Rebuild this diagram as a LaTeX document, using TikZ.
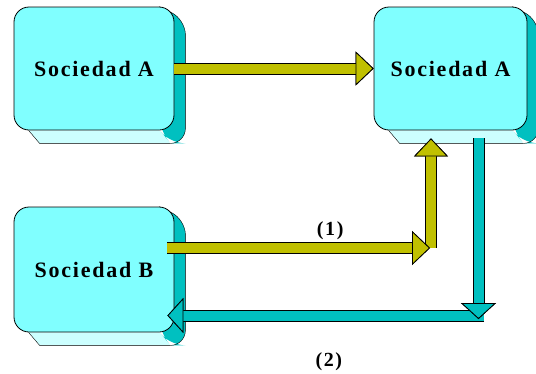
\documentclass[tikz,border=0pt]{standalone}
\usepackage{fontspec}
\newfontfamily\socfont{Liberation Serif}[LetterSpace=8]
\usetikzlibrary{arrows.meta,backgrounds}
\definecolor{socface}{RGB}{128,255,255}
\definecolor{socside}{RGB}{0,192,192}
\definecolor{socbottom}{RGB}{204,255,255}
\definecolor{flowyellow}{RGB}{192,192,0}
\definecolor{flowteal}{RGB}{0,192,192}
\begin{document}
\begin{tikzpicture}[x=1pt,y=-1pt]
        \tikzstyle{sociedad}=[rectangle,rounded corners=15pt,draw=black,line width=0.8pt,fill=socface,minimum width=160pt,minimum height=123pt,inner sep=0pt,font=\socfont\bfseries\fontsize{22}{26}\selectfont]
        \tikzstyle{flow}=[line width=10pt,preaction={draw=black,line width=12pt}]
        \tikzstyle{yellowflow}=[flow,draw=flowyellow,-{Triangle[width=34pt,length=18pt,line width=0.8pt,color=black,fill=flowyellow]}]
        \tikzstyle{tealflow}=[flow,draw=flowteal,-{Triangle[width=35pt,length=16pt,line width=0.8pt,color=black,fill=flowteal]}]
        \tikzstyle{flowlabel}=[font=\socfont\bfseries\fontsize{20}{24}\selectfont]
        \useasboundingbox (0,0) rectangle (536,373);
       \begin{scope}
         \node [sociedad] (socA) at (94,68.5) {Sociedad A};
         \node [sociedad,minimum width=153pt] (socAA) at (450.5,68.5) {Sociedad A};
         \node [sociedad,minimum height=125pt] (socB) at (94,269.5) {Sociedad B};
        \end{scope}
        % side and bottom faces behind the boxes
        \begin{scope}[on background layer,line width=0.8pt]
         \foreach \n in {socA,socAA,socB} {
           \fill[socside,rounded corners=15pt] ([xshift=-15]\n.north east) -- ([shift={(11,13)}]\n.north east) -- ([shift={(11,13)}]\n.south east) -- ([shift={(-4,13)}]\n.south east) -- ([xshift=-15]\n.south east) -- cycle;
           \draw[rounded corners=15pt] ([xshift=-15]\n.north east) -- ([shift={(11,13)}]\n.north east) -- ([shift={(11,13)}]\n.south east) -- ([shift={(-4,13)}]\n.south east);
           \fill[socbottom] ([xshift=15]\n.south west) -- ++(11,13) -- ([shift={(-4,13)}]\n.south east) -- ([xshift=-15]\n.south east) -- cycle;
           \draw ([xshift=15]\n.south west) -- ++(11,13) -- ([shift={(-4,13)}]\n.south east);
         }
        \end{scope}
        \coordinate (bend1) at (431,248);
        \coordinate (bend2) at (478.5,315.5);
        \draw[yellowflow] (socA.east) -- (socAA.west);
        \draw[yellowflow] (bend1) -- ([shift={(-19.5,8)}]socAA.south);
        \draw[yellowflow] ([xshift=-7]socB.east |- bend1) -- node[flowlabel,above=0pt,pos=0.62] {(1)} ([xshift=-1]bend1);
        \draw[tealflow] ([xshift=5.5]bend2) -- node[flowlabel,below=29pt,pos=0.49] {(2)} ([xshift=-7]socB.east |- bend2);
        \draw[tealflow] ([shift={(28,8)}]socAA.south) -- ([yshift=-3.5]bend2);
      \end{tikzpicture}
\end{document}
